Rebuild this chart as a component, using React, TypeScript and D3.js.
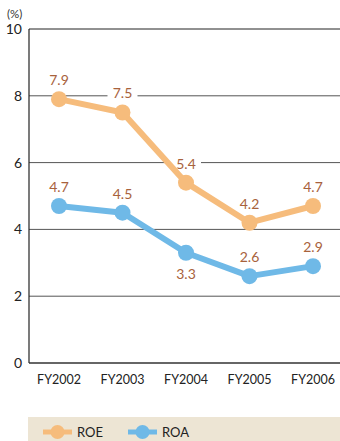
import { useEffect, useRef } from "react";
import * as d3 from "d3";

const years = ["FY2002", "FY2003", "FY2004", "FY2005", "FY2006"];
const roe = [7.9, 7.5, 5.4, 4.2, 4.7];
const roa = [4.7, 4.5, 3.3, 2.6, 2.9];
const roeBelow = [false, false, false, false, false];
const roaBelow = [false, false, true, false, false];
const yTicks = [0, 2, 4, 6, 8, 10];

const ROE_COLOR = "#f6bc7c";
const ROA_COLOR = "#6fb9e7";
const LABEL_COLOR = "#a8623c";
const FONT = "Lato, 'Open Sans', sans-serif";

export default function App() {
  const svgRef = useRef<SVGSVGElement | null>(null);

  useEffect(() => {
    if (!svgRef.current) return;
    const svg = d3.select(svgRef.current);
    svg.selectAll("*").remove();

    const left = 29;
    const right = 340;
    const top = 29;
    const bottom = 363;

    const x = d3.scalePoint<string>().domain(years).range([59, 313]);
    const y = d3.scaleLinear().domain([0, 10]).range([bottom, top]);

    // gridlines
    svg
      .append("g")
      .selectAll("line")
      .data(yTicks.filter(t => t > 0))
      .enter()
      .append("line")
      .attr("x1", left)
      .attr("x2", right)
      .attr("y1", d => y(d))
      .attr("y2", d => y(d))
      .attr("stroke", d => (d === 10 ? "#222" : "#555"))
      .attr("stroke-width", 1);

    // axes lines
    svg.append("line").attr("x1", left).attr("x2", left).attr("y1", top).attr("y2", bottom)
      .attr("stroke", "#222").attr("stroke-width", 1.2);
    svg.append("line").attr("x1", left).attr("x2", right).attr("y1", bottom).attr("y2", bottom)
      .attr("stroke", "#333").attr("stroke-width", 1.5);

    // y tick labels
    svg
      .append("g")
      .selectAll("text")
      .data(yTicks)
      .enter()
      .append("text")
      .attr("x", 22)
      .attr("y", d => y(d))
      .attr("dy", "0.36em")
      .attr("text-anchor", "end")
      .attr("font-family", FONT)
      .attr("font-size", 14)
      .attr("fill", "#222")
      .text(d => d);

    svg.append("text").attr("x", 7).attr("y", 18).attr("font-family", FONT)
      .attr("font-size", 11.5).attr("fill", "#333").text("(%)");

    // x labels
    svg
      .append("g")
      .selectAll("text")
      .data(years)
      .enter()
      .append("text")
      .attr("x", d => x(d)!)
      .attr("y", 384)
      .attr("text-anchor", "middle")
      .attr("font-family", FONT)
      .attr("font-size", 12.5)
      .attr("fill", "#222")
      .text(d => d);

    const line = d3
      .line<number>()
      .x((_d, i) => x(years[i])!)
      .y(d => y(d));

    const bgLayer = svg.append("g");
    const seriesLayer = svg.append("g");
    const textLayer = svg.append("g");

    const drawSeries = (vals: number[], color: string, below: boolean[]) => {
      const pos = (d: number, i: number) =>
        `translate(${x(years[i])},${y(d) + (below[i] ? 21 : -19)})`;
      bgLayer
        .selectAll(null)
        .data(vals)
        .enter()
        .append("rect")
        .attr("transform", pos)
        .attr("x", -15)
        .attr("y", -8)
        .attr("width", 30)
        .attr("height", 16)
        .attr("fill", "#fff");
      const g = seriesLayer.append("g");
      g.append("path")
        .attr("d", line(vals))
        .attr("fill", "none")
        .attr("stroke", color)
        .attr("stroke-width", 6)
        .attr("stroke-linejoin", "round");
      g.selectAll("circle")
        .data(vals)
        .enter()
        .append("circle")
        .attr("cx", (_d, i) => x(years[i])!)
        .attr("cy", d => y(d))
        .attr("r", 8)
        .attr("fill", color);
      textLayer
        .selectAll(null)
        .data(vals)
        .enter()
        .append("text")
        .attr("transform", pos)
        .attr("text-anchor", "middle")
        .attr("dy", "0.35em")
        .attr("font-family", FONT)
        .attr("font-size", 14)
        .attr("fill", LABEL_COLOR)
        .text(d => d.toFixed(1));
    };

    drawSeries(roe, ROE_COLOR, roeBelow);
    drawSeries(roa, ROA_COLOR, roaBelow);

    // legend
    svg.append("rect").attr("x", 28).attr("y", 417).attr("width", 312).attr("height", 30)
      .attr("fill", "#ede5d4");
    const legend = [
      { name: "ROE", color: ROE_COLOR, x: 43 },
      { name: "ROA", color: ROA_COLOR, x: 128 },
    ];
    const lg = svg.selectAll("g.leg").data(legend).enter().append("g")
      .attr("transform", d => `translate(${d.x},432)`);
    lg.append("line").attr("x1", 0).attr("x2", 29).attr("stroke", d => d.color).attr("stroke-width", 5);
    lg.append("circle").attr("cx", 14.5).attr("r", 7).attr("fill", d => d.color);
    lg.append("text").attr("x", 34).attr("dy", "0.36em").attr("font-family", FONT)
      .attr("font-size", 13).attr("fill", "#222").text(d => d.name);
  }, []);

  return (
    <svg
      ref={svgRef}
      width={340}
      height={441}
      style={{ position: "absolute", left: 0, top: 0, background: "#fff" }}
    />
  );
}
